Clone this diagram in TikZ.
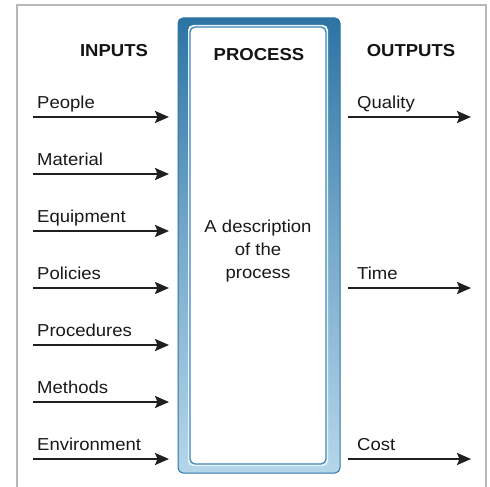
\documentclass[tikz,border=0pt]{standalone}
\usepackage{fontspec}
\usepackage{graphicx}
\setmainfont{Liberation Sans}
\usetikzlibrary{arrows.meta}
\definecolor{frameg}{HTML}{B8B8B8}
\definecolor{bdark}{HTML}{2C74A4}
\definecolor{blight}{HTML}{B5D6EA}
\definecolor{bmid}{HTML}{3D86B6}
\newcommand{\hs}[1]{\scalebox{1.07}[1]{#1}}
\tikzset{
  lbl/.style={font=\fontsize{17.3}{20}\selectfont, inner sep=0pt, anchor=base west, text=black!90},
  hdr/.style={font=\fontsize{17.3}{20}\selectfont\bfseries, inner sep=0pt, anchor=base, text=black!92},
  flow/.style={draw=black!88, line width=2pt, -{Stealth[length=14pt,width=12pt,inset=2.5pt]}},
}
\begin{document}
\begin{tikzpicture}[x=1pt,y=-1pt]
\useasboundingbox (0,0) rectangle (490,487);
\fill[white] (0,0) rectangle (490,487);
% outer grey frame
\draw[frameg, line width=1.6pt] (17,490) -- (17,5) -- (486,5) -- (486,490);
% process box
\shade[rounded corners=5pt, top color=bdark, bottom color=blight, middle color=bdark!45!blight] (178,18) rectangle (340,473);
\draw[bdark, line width=1pt, rounded corners=5pt] (178,18) rectangle (340,473);
\fill[white!70!blight, rounded corners=5pt] (188,25) rectangle (328,466);
\draw[bmid, line width=1.3pt, fill=white, rounded corners=5pt] (190,27) rectangle (326,464);
\node (proc) [hdr] at (259,60) {\hs{PROCESS}};
\node (desc) [font=\fontsize{17.3}{23}\selectfont, align=center, text=black!90, inner sep=0pt] at (258,251) {\hs{A description}\\\hs{of the}\\\hs{process}};
% headers
\node (inh) [hdr] at (114,57) {\hs{INPUTS}};
\node (outh) [hdr] at (411,57) {\hs{OUTPUTS}};
% inputs
\foreach \t [count=\i] in {People,Material,Equipment,Policies,Procedures,Methods,Environment} {
  \pgfmathsetmacro{\yy}{117+57*(\i-1)}
  \coordinate (is\i) at (33,\yy);
  \coordinate (ie\i) at (169,\yy);
  \node (il\i) [lbl] at (37,\yy-9) {\hs{\t}};
  \draw[flow] (is\i) -- (ie\i);
}
% outputs
\foreach \t/\yy [count=\i] in {Quality/117,Time/288,Cost/459} {
  \coordinate (os\i) at (348,\yy);
  \coordinate (oe\i) at (471,\yy);
  \node (ol\i) [lbl] at (357,\yy-9) {\hs{\t}};
  \draw[flow] (os\i) -- (oe\i);
}
\end{tikzpicture}
\end{document}
